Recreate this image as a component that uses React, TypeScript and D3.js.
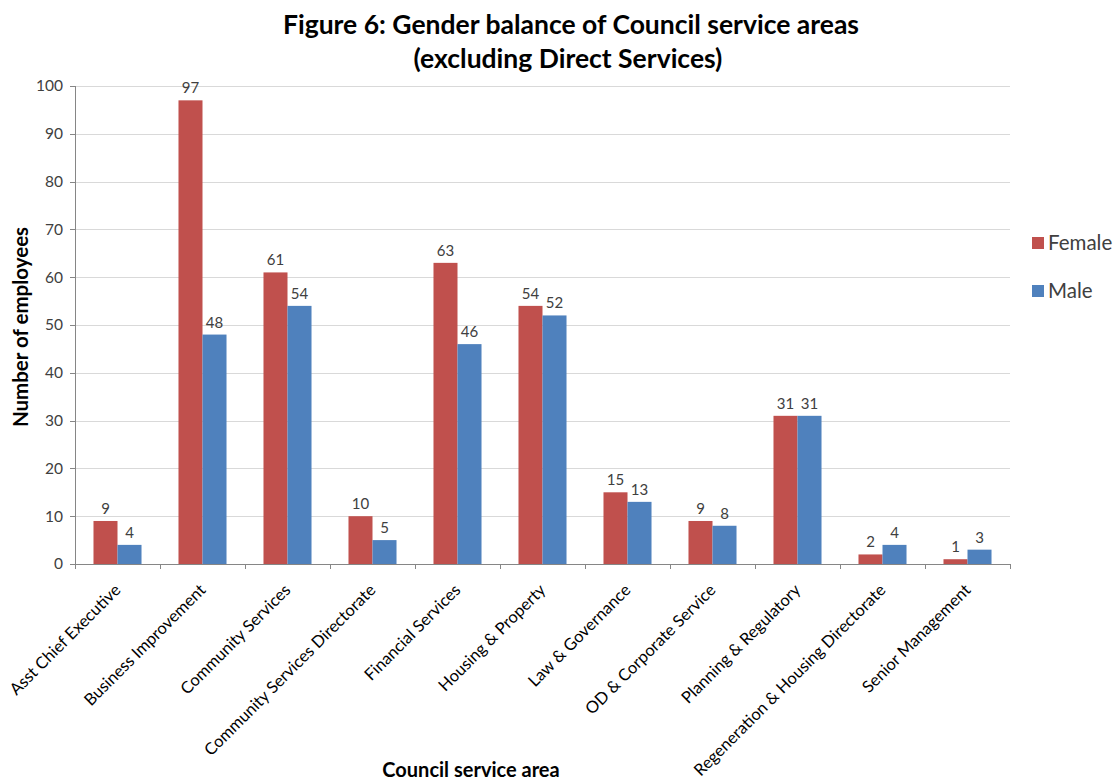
import * as d3 from 'd3'

const categories = [
    "Asst Chief Executive",
    "Business Improvement",
    "Community Services",
    "Community Services Directorate",
    "Financial Services",
    "Housing & Property",
    "Law & Governance",
    "OD & Corporate Service",
    "Planning & Regulatory",
    "Regeneration & Housing Directorate",
    "Senior Management",
]
const seriesNames = ["Female", "Male"]
const female = [9, 97, 61, 10, 63, 54, 15, 9, 31, 2, 1]
const male = [4, 48, 54, 5, 46, 52, 13, 8, 31, 4, 3]
const yTicks = [0, 10, 20, 30, 40, 50, 60, 70, 80, 90, 100]

const colors: Record<string, string> = { Female: "#C0504D", Male: "#4F81BD" }
const font = "Lato, 'Open Sans', sans-serif"

function App() {
    const width = 1115, height = 783
    const marginLeft = 75, marginRight = 105, marginTop = 86, marginBottom = 219

    const x = d3.scaleBand()
        .domain(categories)
        .range([marginLeft, width - marginRight])
        .padding(0)

    const x1 = d3.scaleBand()
        .domain(seriesNames)
        .range([0, x.bandwidth()])
        .paddingInner(0)
        .paddingOuter(0.77)

    const y = d3.scaleLinear()
        .domain([0, 100])
        .range([height - marginBottom, marginTop])

    const values: Record<string, number[]> = { Female: female, Male: male }
    const bars = categories.flatMap((c, i) => seriesNames.map(s => ({ c, s, v: values[s][i] })))

    const boundaries = categories.map(c => x(c) ?? 0).concat([width - marginRight])

    return (
        <svg width={width} height={height} style={{ position: "absolute", left: 0, top: 0, background: "#fff" }} fontFamily={font}>
            <text x={571} y={34} textAnchor="middle" fontSize={26.5} fontWeight="bold" fill="#000">
                Figure 6: Gender balance of Council service areas
            </text>
            <text x={568} y={68} textAnchor="middle" fontSize={26.5} fontWeight="bold" fill="#000">
                (excluding Direct Services)
            </text>

            {/* gridlines */}
            <g stroke="#D9D9D9" strokeWidth={1}>
                {yTicks.filter(t => t > 0).map(t => (
                    <line key={t} x1={marginLeft} x2={width - marginRight} y1={Math.round(y(t)) + 0.5} y2={Math.round(y(t)) + 0.5} />
                ))}
            </g>

            {/* bars */}
            <g>
                {bars.map(d => (
                    <rect key={d.c + d.s}
                        x={(x(d.c) ?? 0) + (x1(d.s) ?? 0)}
                        y={y(d.v)}
                        width={x1.bandwidth()}
                        height={y(0) - y(d.v)}
                        fill={colors[d.s]} />
                ))}
            </g>

            {/* value labels */}
            <g fontSize={15} fill="#404040" textAnchor="middle">
                {bars.map(d => (
                    <text key={d.c + d.s}
                        x={(x(d.c) ?? 0) + (x1(d.s) ?? 0) + x1.bandwidth() / 2}
                        y={y(d.v) - 7}>
                        {d.v}
                    </text>
                ))}
            </g>

            {/* y axis */}
            <g stroke="#868686" strokeWidth={1}>
                <line x1={marginLeft + 0.5} x2={marginLeft + 0.5} y1={y(100)} y2={y(0)} />
                {yTicks.map(t => (
                    <line key={t} x1={marginLeft - 5} x2={marginLeft} y1={Math.round(y(t)) + 0.5} y2={Math.round(y(t)) + 0.5} />
                ))}
            </g>
            <g fontSize={15.5} fill="#404040" textAnchor="end">
                {yTicks.map(t => (
                    <text key={t} x={marginLeft - 12} y={y(t)} dy="0.35em">{t}</text>
                ))}
            </g>

            {/* x axis */}
            <g stroke="#868686" strokeWidth={1}>
                <line x1={marginLeft} x2={width - marginRight} y1={Math.round(y(0)) + 0.5} y2={Math.round(y(0)) + 0.5} />
                {boundaries.map((b, i) => (
                    <line key={i} x1={Math.round(b) + 0.5} x2={Math.round(b) + 0.5} y1={y(0)} y2={y(0) + 5} />
                ))}
            </g>
            <g fontSize={16.5} fill="#000">
                {categories.map(c => {
                    const cx = (x(c) ?? 0) + x.bandwidth() / 2
                    return (
                        <text key={c} textAnchor="end" dy="0.35em"
                            transform={`translate(${cx},${y(0) + 23}) rotate(-45)`}>
                            {c}
                        </text>
                    )
                })}
            </g>

            {/* axis titles */}
            <text x={471} y={777} textAnchor="middle" fontSize={20} fontWeight="bold" fill="#000">
                Council service area
            </text>
            <text transform={`translate(21,${(y(0) + y(100)) / 2 + 2}) rotate(-90)`} dy="0.35em"
                textAnchor="middle" fontSize={20.5} fontWeight="bold" fill="#000">
                Number of employees
            </text>

            {/* legend */}
            <g>
                {seriesNames.map((s, i) => (
                    <g key={s} transform={`translate(1032,${237 + i * 48})`}>
                        <rect width={12} height={12} fill={colors[s]} />
                        <text x={16} y={6} dy="0.36em" fontSize={20.5} fill="#404040">{s}</text>
                    </g>
                ))}
            </g>
        </svg>
    )
}

export default App
